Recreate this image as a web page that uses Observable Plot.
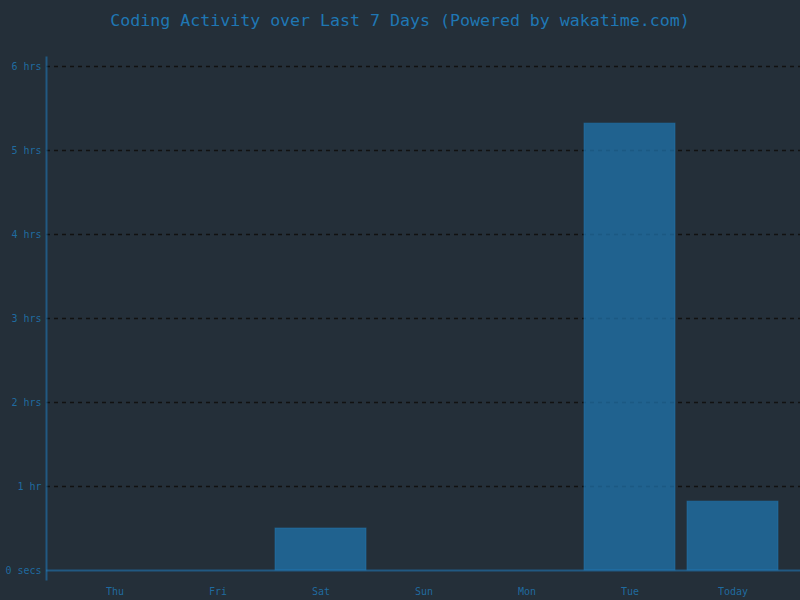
<!DOCTYPE html>
<html>
<head>
<meta charset="utf-8">
<script src="https://cdn.jsdelivr.net/npm/d3@7"></script>
<script src="https://cdn.jsdelivr.net/npm/@observablehq/plot@0.6"></script>
<style>
  html, body { margin: 0; padding: 0; background: #242f39; width: 800px; height: 600px; overflow: hidden; }
  #title { height: 40px; line-height: 41px; text-align: center; font-family: "DejaVu Sans Mono", monospace; font-size: 16.6px; color: #1f77b4; white-space: nowrap; }
  #chart svg { display: block; }
</style>
</head>
<body>
<div id="title">Coding Activity over Last 7 Days (Powered by wakatime.com)</div>
<div id="chart"></div>
<script>
const days = ["Thu", "Fri", "Sat", "Sun", "Mon", "Tue", "Today"];
const hours = [0, 0, 0.5, 0, 0, 5.32, 0.82];
const tickValues = [0, 1, 2, 3, 4, 5, 6];
const tickLabels = ["0 secs", "1 hr", "2 hrs", "3 hrs", "4 hrs", "5 hrs", "6 hrs"];

const data = days.map((d, i) => ({day: d, hours: hours[i]}));
const blue = "#1f77b4";

const chart = Plot.plot({
  width: 800,
  height: 560,
  marginLeft: 46,
  marginRight: 0,
  marginTop: 17,
  marginBottom: 21,
  style: { background: "#242f39", fontFamily: "'DejaVu Sans Mono', monospace", fontSize: "10px", color: blue },
  x: { domain: days, paddingInner: 0.12, paddingOuter: 0.195, label: null },
  y: { domain: [-9/84, 6 + 9/84], label: null },
  marks: [
    Plot.ruleY(tickValues.slice(1), { stroke: "#111", strokeDasharray: "4,4", strokeWidth: 1.5 }),
    Plot.barY(data, { x: "day", y: "hours", fill: blue, fillOpacity: 0.7, stroke: blue, strokeOpacity: 0.5, strokeWidth: 1 }),
    Plot.ruleY([0], { stroke: blue, strokeOpacity: 0.6, strokeWidth: 2 }),
    Plot.frame({ anchor: "left", stroke: blue, strokeOpacity: 0.6, strokeWidth: 2 }),
    Plot.axisY({ ticks: tickValues, tickFormat: (d) => tickLabels[tickValues.indexOf(d)], tickSize: 0, tickPadding: 5, fill: blue, fillOpacity: 0.85 }),
    Plot.axisX({ tickSize: 0, tickPadding: 8, fill: blue, fillOpacity: 0.85 })
  ]
});
document.getElementById("chart").appendChild(chart);
</script>
</body>
</html>
